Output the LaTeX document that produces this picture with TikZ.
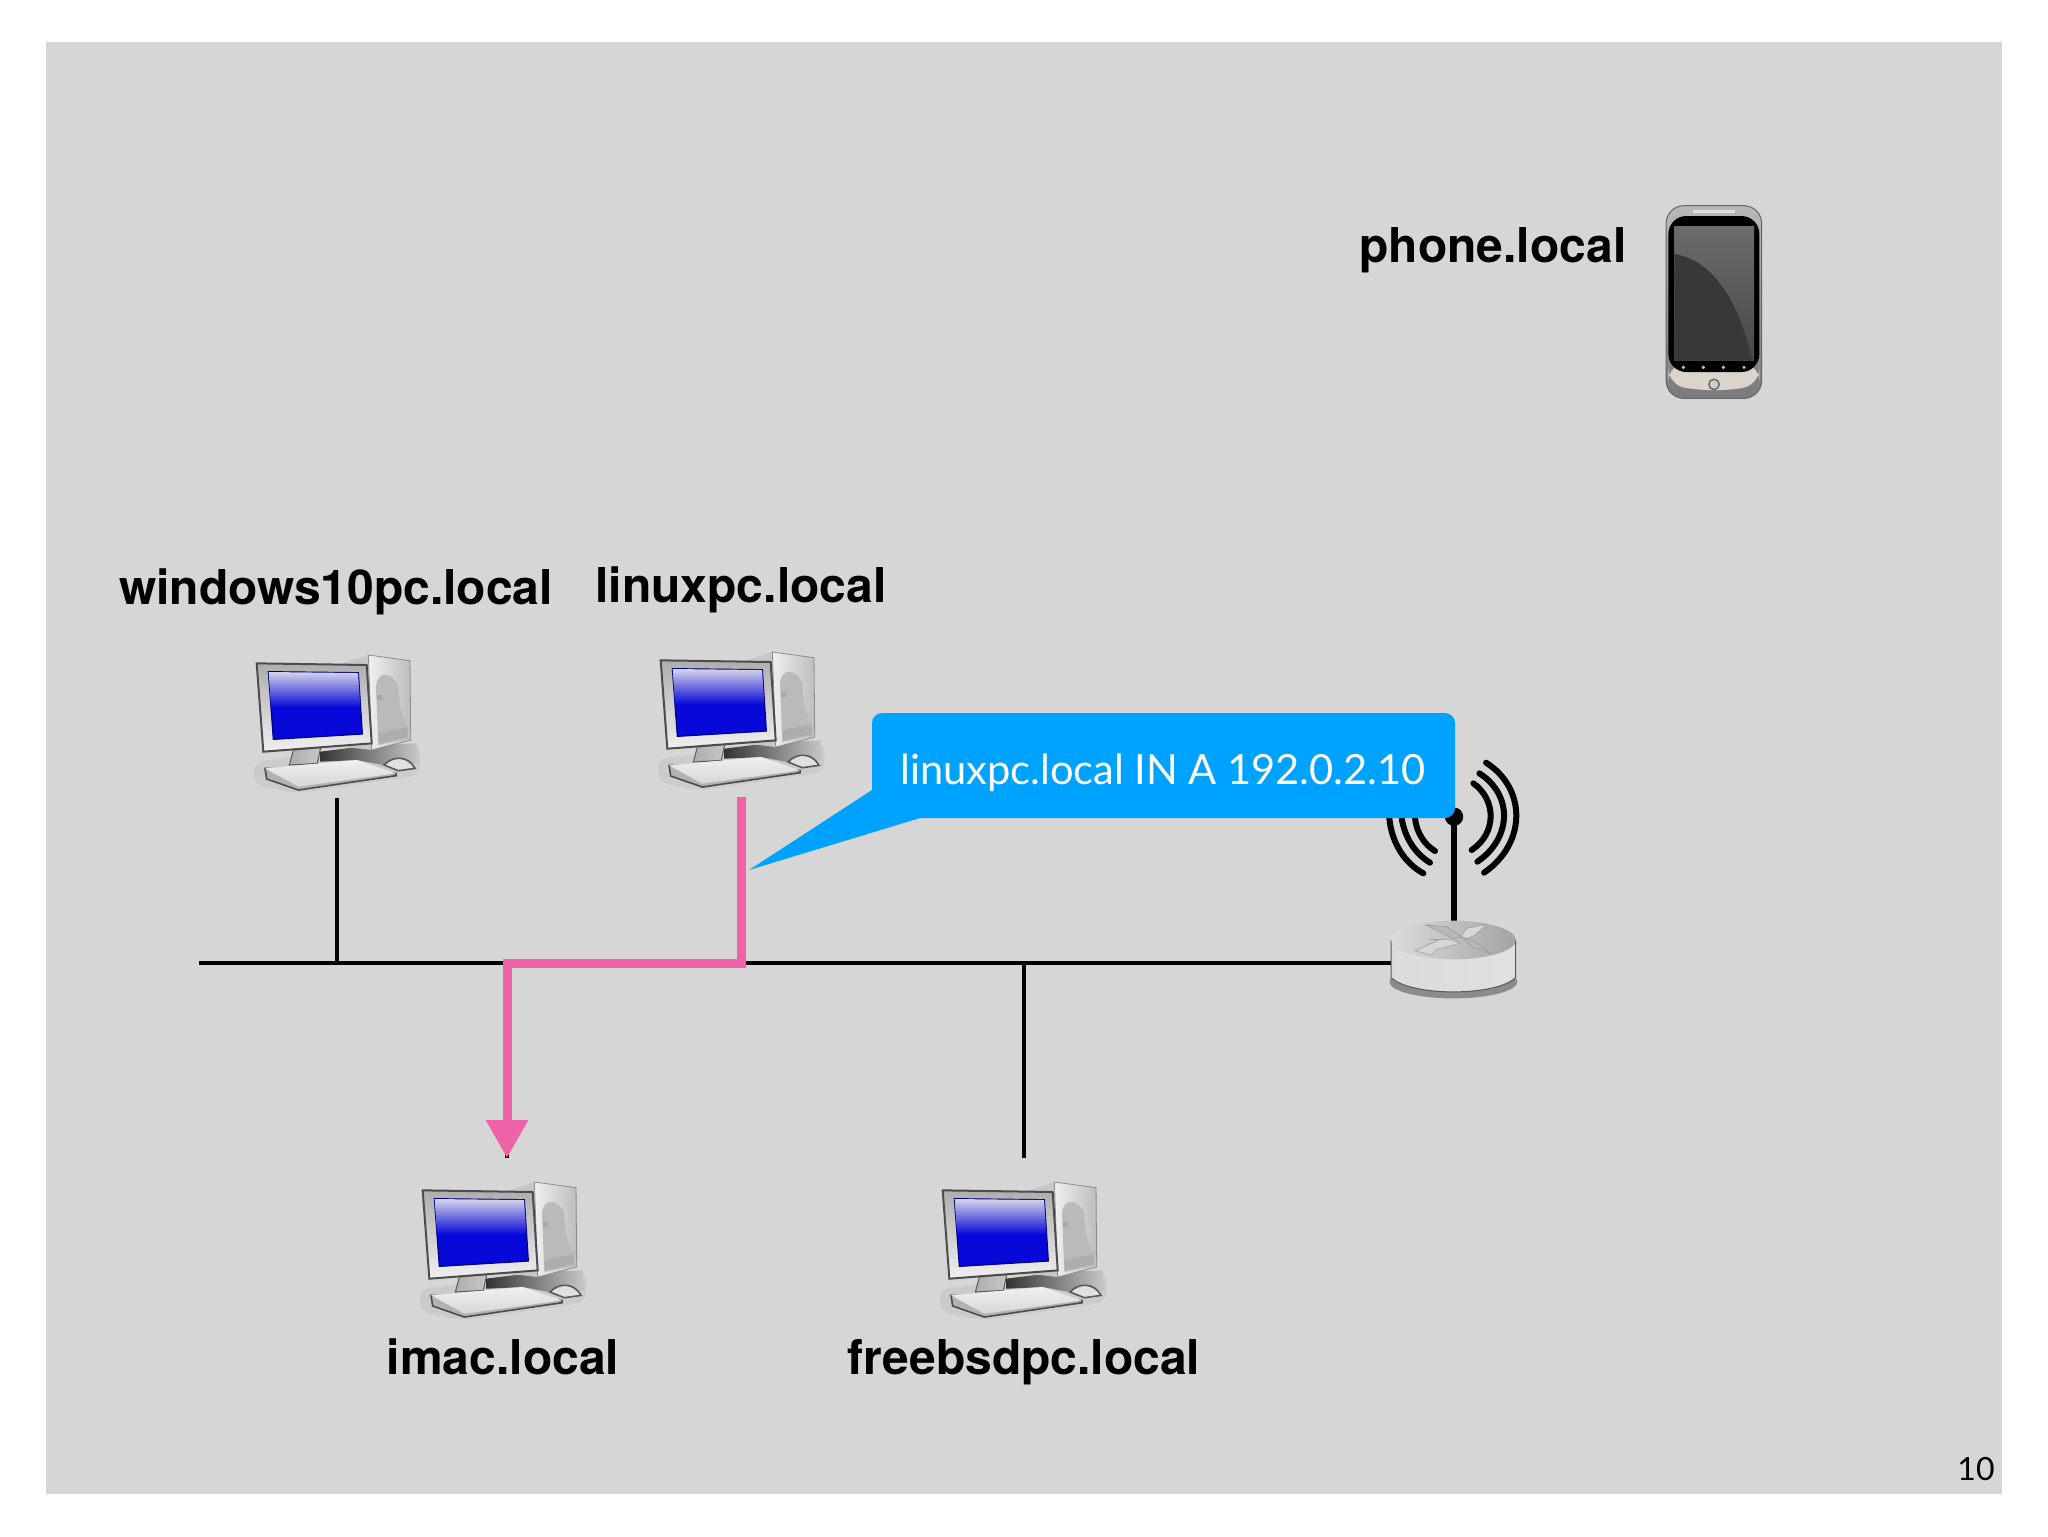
\documentclass[tikz,border=0pt]{standalone}
\usepackage{fontspec}
\setmainfont{TeX Gyre Heros}
\newfontfamily\calloutfont{Lato}
\usetikzlibrary{arrows.meta}
\definecolor{slidegray}{HTML}{D6D6D7}
\definecolor{calloutblue}{HTML}{00A2FF}
\definecolor{pathpink}{HTML}{F062A8}
\definecolor{screenblue}{HTML}{0808D8}
\definecolor{screenlight}{HTML}{D4D4EA}
\definecolor{phonechin}{HTML}{DAD4CC}
\tikzset{
    hostname/.style={font=\fontsize{24}{30}\selectfont\bfseries,text=black,inner sep=0pt,anchor=base},
    calloutlabel/.style={font=\fontsize{20.8}{26}\calloutfont,text=white,inner sep=0pt,anchor=base},
    wire/.style={draw=black,line width=2pt},
    pinkwire/.style={draw=pathpink,line width=4.5pt},
    radio/.style={draw=black,line width=3pt,line cap=round},
    computer/.pic={
        \begin{scope}[x=.1667pt,y=-.1667pt]
        \fill[black,opacity=.05,rounded corners=5pt] (72,395) -- (570,340) -- (570,435) -- (200,490) -- (72,465) -- cycle;
        \shade[left color=black!80,right color=black!22] (270,365) -- (430,345) -- (560,340) -- (565,400) -- (460,405) -- (380,390) -- (270,395) -- cycle;
        \fill[black!22] (340,100) -- (415,75) -- (425,360) -- (340,350) -- cycle;
        \shade[left color=black!6,right color=black!26,draw=black!45,line width=.4pt] (415,75) -- (540,92) -- (542,330) -- (425,360) -- cycle;
        \fill[black!27] (438,170) .. controls (440,120) and (490,125) .. (505,170) .. controls (505,230) and (520,270) .. (535,295) -- (535,325) -- (445,345) -- cycle;
        \fill[black!34] (440,195) rectangle (456,210);
        \fill[black!32] (445,310) -- (532,292) -- (533,322) -- (447,340) -- cycle;
        \shade[left color=black!32,right color=black!22,draw=black!65,line width=.5pt] (190,360) -- (272,352) -- (262,400) -- (178,405) -- cycle;
        \shade[top color=black!32,bottom color=black!6,draw=black!70,line width=1pt] (80,100) -- (410,105) -- (425,340) -- (100,365) -- cycle;
        \fill[screenblue,draw=blue!50!black,line width=.6pt] (115,125) -- (385,128) -- (397,312) -- (130,328) -- cycle;
        \shade[top color=screenlight,bottom color=screenblue] (116,126) -- (384,129) -- (391,232) -- (123,232) -- cycle;
        \fill[white!88!black,draw=black!65,line width=.8pt] (462,405) .. controls (490,375) and (535,378) .. (555,415) -- (505,422) -- cycle;
        \fill[black!30,draw=black!70,line width=.8pt] (105,415) -- (110,447) -- (205,480) -- (498,437) -- (498,430) -- cycle;
        \shade[top color=black!6,bottom color=black!16] (105,415) -- (380,390) -- (498,430) -- (205,470) -- cycle;
        \end{scope}
    },
    phone/.pic={
        \begin{scope}[x=.1667pt,y=-.1667pt]
        \shade[top color=black!28,bottom color=black!52,rounded corners=9pt,draw=black!60,line width=.5pt] (78,47) -- (365,47) -- (365,625) -- (78,625) -- cycle;
        \fill[black!12] (160,60) rectangle (285,70);
        \fill[phonechin,rounded corners=9pt] (85,520) -- (358,520) -- (358,588) -- (225,604) -- (85,588) -- cycle;
        \fill[black,rounded corners=9pt] (85,78) -- (358,78) -- (358,546) -- (85,546) -- cycle;
        \shade[top color=black!58,bottom color=black!72] (103,110) rectangle (342,512);
        \fill[black!78] (103,192) .. controls (220,210) and (300,340) .. (336,512) -- (103,512) -- cycle;
        \fill[black!25] (130,532) circle (.9pt) (190,532) circle (.9pt) (250,532) circle (.9pt) (312,532) circle (.9pt);
        \draw[black!60,fill=black!20,line width=.7pt] (222,583) circle (2.6pt);
        \end{scope}
    },
    router/.pic={
        \begin{scope}[x=.1667pt,y=-.1667pt]
        \fill[black,opacity=.35] (280,725) ellipse [x radius=192pt/6,y radius=50pt/6];
        \draw[radio] (165,235) .. controls (170,280) and (195,315) .. (225,333);
        \draw[radio] (125,235) .. controls (135,295) and (165,340) .. (210,368);
        \draw[radio] (88,235) .. controls (95,310) and (135,370) .. (190,400);
        \draw[radio] (340,130) .. controls (410,180) and (410,280) .. (335,330);
        \draw[radio] (358,100) .. controls (460,165) and (455,295) .. (352,365);
        \draw[radio] (378,68) .. controls (500,145) and (500,310) .. (372,398);
        \draw[black,line width=3pt,line cap=round] (282,545) -- (282,232);
        \fill[black] (282,230) circle (4.6pt);
        \shade[left color=black!14,middle color=black!36,right color=black!12,draw=black!65,line width=.5pt] (93,600) -- (93,712) .. controls (150,770) and (410,770) .. (467,712) -- (467,600) -- cycle;
        \shade[left color=black!14,right color=black!36] (280,600) ellipse [x radius=187pt/6,y radius=58pt/6];
        \fill[black!16,draw=black!38,line width=.3pt] (165,632) -- (235,600) -- (205,598) -- (272,598) -- (300,610) -- (230,628) -- (215,645) -- cycle;
        \fill[black!16,draw=black!38,line width=.3pt] (300,592) -- (320,565) -- (380,553) -- (345,585) -- (310,600) -- cycle;
        \fill[black!28,draw=black!40,line width=.3pt] (198,555) -- (260,560) -- (305,590) -- (280,596) -- cycle;
        \fill[black!28,draw=black!40,line width=.3pt] (305,590) -- (345,605) -- (392,640) -- (335,620) -- cycle;
        \end{scope}
    }
}
\begin{document}
\begin{tikzpicture}[x=.5pt,y=-.5pt]
    \useasboundingbox[fill=white] (0,0) rectangle (2048,1536);
    \fill[slidegray] (46,42) rectangle (2002,1494);

    \coordinate (busleft) at (199,963);
    \coordinate (busright) at (1392,963);
    \coordinate (winend) at (337,798);
    \coordinate (wintap) at (337,963);
    \coordinate (linuxend) at (741,797);
    \coordinate (linuxtap) at (741,963);
    \coordinate (imacend) at (507,1158);
    \coordinate (imactap) at (507,963);
    \coordinate (freebsdend) at (1024,1158);
    \coordinate (freebsdtap) at (1024,963);

    \draw[wire] (busleft) -- (busright);
    \draw[wire] (winend) -- (wintap);
    \draw[wire] (linuxend) -- (linuxtap);
    \draw[wire] (imactap) -- (imacend);
    \draw[wire] (freebsdtap) -- (freebsdend);
    \draw[pinkwire,-{Triangle[length=19pt,width=20pt]}] (linuxend) -- (linuxtap) -- (imactap) -- (imacend);

    \pic (winpc) at (230,630) {computer};
    \pic (linuxpc) at (634,627) {computer};
    \pic (imacpc) at (396,1157) {computer};
    \pic (freebsdpc) at (916,1157) {computer};
    \pic (nexus) at (1640,190) {phone};
    \pic (wifi) at (1360,740) {router};

    \node[hostname] (winlabel) at (336,604) {windows10pc.local};
    \node[hostname] (linuxlabel) at (741,602) {linuxpc.local};
    \node[hostname] (phonelabel) at (1493,262) {phone.local};
    \node[hostname] (imaclabel) at (503,1374) {imac.local};
    \node[hostname] (freebsdlabel) at (1024,1374) {freebsdpc.local};

    \fill[calloutblue] (872,790) -- (749,870) -- (920,818) [rounded corners=5pt] -- (1455,818) -- (1455,713) -- (872,713) [sharp corners] -- cycle;
    \node[calloutlabel] (dnsrecord) at (1163,784) {linuxpc.local IN A 192.0.2.10};

    \node[font=\fontsize{16}{20}\calloutfont,inner sep=0pt] (pagenum) at (1976,1469) {10};
\end{tikzpicture}
\end{document}
